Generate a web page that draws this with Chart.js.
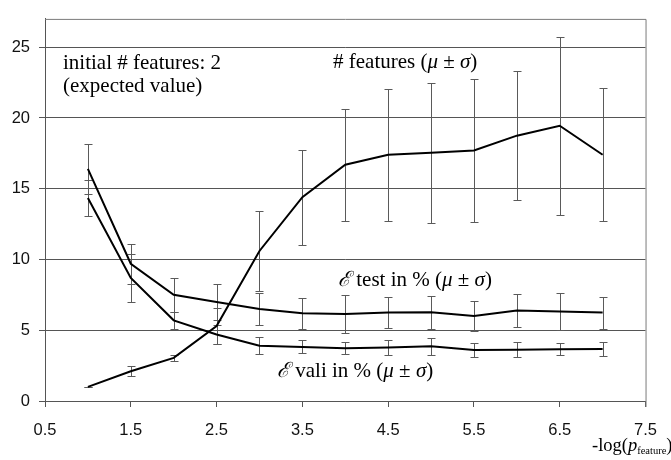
<!DOCTYPE html>
<html>
<head>
<meta charset="utf-8">
<script src="https://cdn.jsdelivr.net/npm/chart.js@4.4.1/dist/chart.umd.min.js"></script>
<style>
  html, body { margin: 0; padding: 0; background: #fff; }
  #wrap { width: 671px; height: 460px; }
</style>
</head>
<body>
<div id="wrap"><canvas id="c" width="671" height="460"></canvas></div>
<script>
// -log(p_feature) values where each run was evaluated
const logP = [1, 1.5, 2, 2.5, 3, 3.5, 4, 4.5, 5, 5.5, 6, 6.5, 7];

// number of selected features: mean and standard deviation
const featMean = [1.0, 2.1, 3.05, 5.3, 10.6, 14.4, 16.7, 17.4, 17.55, 17.7, 18.75, 19.45, 17.4];
const featSd   = [0, 0.35, 0.2, 1.3, 2.8, 3.35, 3.95, 4.65, 4.95, 5.05, 4.55, 6.3, 4.7];

// test error in %: mean and standard deviation
const testMean = [16.4, 9.7, 7.5, 7.0, 6.5, 6.2, 6.15, 6.25, 6.27, 6.0, 6.4, 6.32, 6.25];
const testSd   = [1.78, 1.4, 1.2, 1.25, 1.1, 1.11, 1.35, 1.1, 1.15, 1.08, 1.15, 1.3, 1.13];

// validation error in %: mean and standard deviation
const valiMean = [14.35, 8.7, 5.7, 4.7, 3.9, 3.82, 3.72, 3.78, 3.86, 3.6, 3.62, 3.66, 3.68];
const valiSd   = [1.25, 1.7, 0.6, 0.7, 0.6, 0.46, 0.43, 0.5, 0.58, 0.5, 0.52, 0.43, 0.47];

// axis ticks
const xTicks = [0.5, 1.5, 2.5, 3.5, 4.5, 5.5, 6.5, 7.5];
const yTicks = [0, 5, 10, 15, 20, 25];

const SERIF = '"Liberation Serif", "Times New Roman", "DejaVu Serif", serif';
const SANS = '"Liberation Sans", Arial, sans-serif';

function points(means) {
  return logP.map((x, i) => ({ x: x, y: means[i] }));
}

const series = [
  { label: '# features', mean: featMean, sd: featSd },
  { label: 'E test', mean: testMean, sd: testSd },
  { label: 'E vali', mean: valiMean, sd: valiSd }
];

// draws a run of text pieces one after another, with optional italics / subscripts
function drawRuns(ctx, x, y, runs, size) {
  let cx = x;
  runs.forEach(r => {
    const s = r.size || size;
    ctx.font = (r.italic ? 'italic ' : '') + s + 'px ' + (r.family || SERIF);
    ctx.fillText(r.t, cx, y + (r.dy || 0));
    cx += ctx.measureText(r.t).width;
  });
}

// error bars (mean ± sd) drawn beneath the lines
const errorBars = {
  id: 'errorBars',
  beforeDatasetsDraw(chart) {
    const { ctx, scales: { x, y } } = chart;
    ctx.save();
    ctx.strokeStyle = '#5a5a5a';
    ctx.lineWidth = 1;
    series.forEach(s => {
      logP.forEach((v, i) => {
        const px = Math.round(x.getPixelForValue(v)) + 0.5;
        const top = Math.round(y.getPixelForValue(s.mean[i] + s.sd[i])) + 0.5;
        const bot = Math.round(y.getPixelForValue(s.mean[i] - s.sd[i])) + 0.5;
        ctx.beginPath();
        ctx.moveTo(px, top); ctx.lineTo(px, bot);
        ctx.moveTo(px - 4, top); ctx.lineTo(px + 4, top);
        ctx.moveTo(px - 4, bot); ctx.lineTo(px + 4, bot);
        ctx.stroke();
      });
    });
    ctx.restore();
  }
};

// plot frame (top and right edges) and text annotations
const annotations = {
  id: 'annotations',
  afterDraw(chart) {
    const { ctx, chartArea: a } = chart;
    ctx.save();
    ctx.strokeStyle = '#7a7a7a';
    ctx.lineWidth = 1;
    ctx.beginPath();
    ctx.moveTo(a.left, a.top + 0.5);
    ctx.lineTo(a.right + 0.5, a.top + 0.5);
    ctx.lineTo(a.right + 0.5, a.bottom + 6);
    ctx.stroke();

    ctx.fillStyle = '#000';
    ctx.textBaseline = 'alphabetic';
    ctx.textAlign = 'left';
    const fs = 21;
    drawRuns(ctx, 63, 69, [{ t: 'initial # features: 2' }], fs);
    drawRuns(ctx, 63, 92, [{ t: '(expected value)' }], fs);
    drawRuns(ctx, 333, 68, [
      { t: '# features (' }, { t: '\u03BC', italic: true }, { t: ' \u00B1 ' },
      { t: '\u03C3', italic: true }, { t: ')' }
    ], fs);
    drawRuns(ctx, 338, 286, [
      { t: '\u2130', italic: true }, { t: ' test in % (' }, { t: '\u03BC', italic: true },
      { t: ' \u00B1 ' }, { t: '\u03C3', italic: true }, { t: ')' }
    ], fs);
    drawRuns(ctx, 277, 377, [
      { t: '\u2130', italic: true }, { t: ' vali in % (' }, { t: '\u03BC', italic: true },
      { t: ' \u00B1 ' }, { t: '\u03C3', italic: true }, { t: ')' }
    ], fs);
    // x-axis title: -log(p_feature)
    drawRuns(ctx, 592, 451, [
      { t: '-log(' }, { t: 'p', italic: true },
      { t: 'feature', size: 10.5, dy: 3 }, { t: ')' }
    ], 18.5);
    ctx.restore();
  }
};

new Chart(document.getElementById('c'), {
  type: 'line',
  data: {
    datasets: series.map(s => ({
      label: s.label,
      data: points(s.mean),
      borderColor: '#000',
      borderWidth: 2,
      pointRadius: 0,
      tension: 0,
      fill: false
    }))
  },
  options: {
    responsive: false,
    animation: false,
    devicePixelRatio: 1,
    layout: { padding: { top: 12, right: 15, left: 0, bottom: 0 } },
    plugins: {
      legend: { display: false },
      tooltip: { enabled: false }
    },
    scales: {
      x: {
        type: 'linear',
        min: 0.5,
        max: 7.5,
        afterBuildTicks: sc => { sc.ticks = xTicks.map(v => ({ value: v })); },
        afterFit: sc => { sc.height = 59; },
        ticks: {
          color: '#111',
          font: { family: SANS, size: 16.5 },
          padding: 14,
          maxRotation: 0,
          callback: v => Number(v).toFixed(1)
        },
        grid: { display: true, drawOnChartArea: false, drawTicks: true, tickLength: 6, color: '#555' },
        border: { display: true, color: '#555', width: 1 }
      },
      y: {
        type: 'linear',
        min: 0,
        max: 27,
        afterBuildTicks: sc => { sc.ticks = yTicks.map(v => ({ value: v })); },
        afterFit: sc => { sc.width = 45; },
        ticks: {
          color: '#111',
          font: { family: SANS, size: 16.5 },
          padding: 9
        },
        grid: { color: '#555', lineWidth: 1, tickLength: 6, drawTicks: true },
        border: { display: true, color: '#555', width: 1 }
      }
    }
  },
  plugins: [errorBars, annotations]
});
</script>
</body>
</html>
